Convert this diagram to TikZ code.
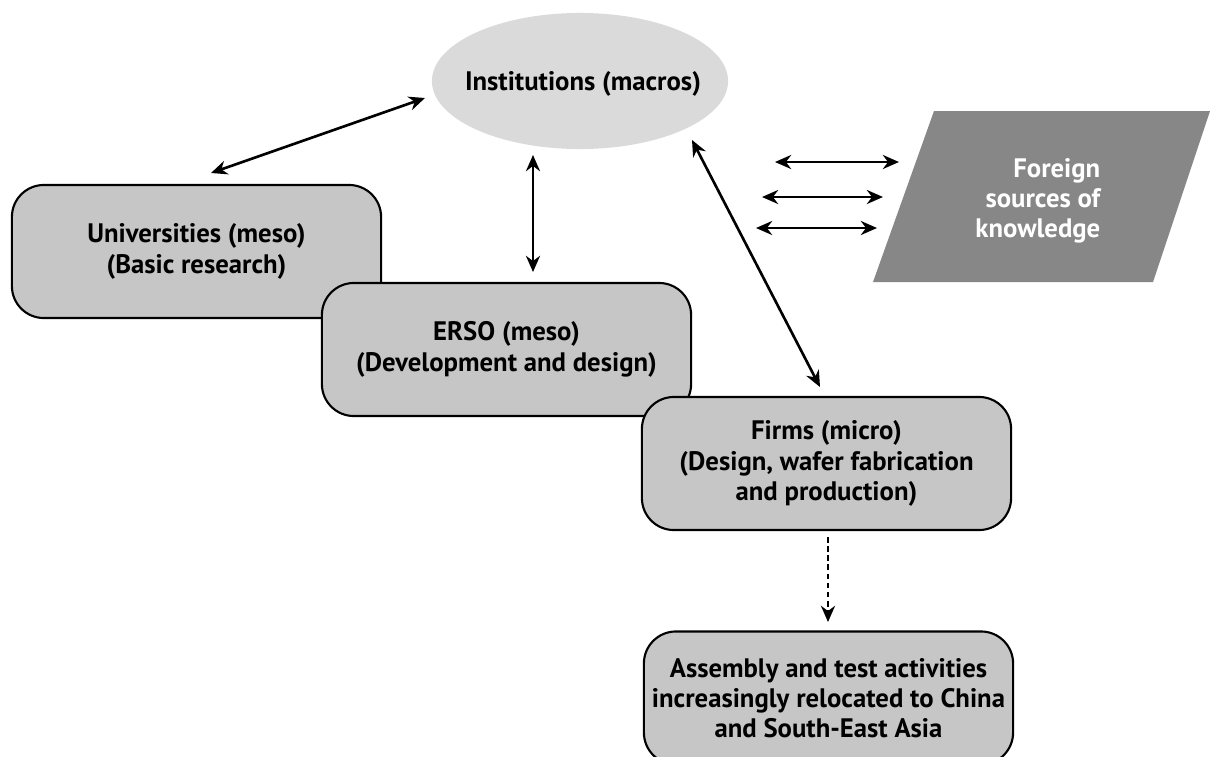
\documentclass[tikz,border=0pt]{standalone}
\usepackage{fontspec}
\setmainfont{PT Sans}
\usetikzlibrary{shapes.geometric,arrows.meta}
\definecolor{instgray}{HTML}{DADADA}
\definecolor{boxgray}{HTML}{C6C6C6}
\definecolor{foreigngray}{HTML}{878787}
\tikzset{
  level/.style={draw=black, line width=0.6pt, fill=boxgray, rounded corners=0.32cm,
    minimum width=3.69cm, minimum height=1.33cm, align=center, inner sep=0pt},
  link/.style={{Stealth[length=4.6pt,width=4pt]}-{Stealth[length=4.6pt,width=4pt]}, line width=0.75pt},
  oneway/.style={-{Stealth[length=4.6pt,width=4pt]}, line width=0.75pt, dash pattern=on 1.6pt off 1pt},
}
\begin{document}
\begin{tikzpicture}[x=0.01cm, y=-0.01cm, font=\fontsize{7.6}{8.6}\selectfont\bfseries]
    \clip (0,0) rectangle (1211,757);

    % macro level
    \node[ellipse, fill=instgray, minimum width=2.96cm, minimum height=1.36cm] (inst) at (580,81) {};
    \node (insttext) at (583,84) {Institutions (macros)};

    % meso and micro levels
    \node[level] (uni) at (196.5,251.5) {Universities (meso)\\(Basic research)};
    \node[level] (erso) at (506.5,349.5) {ERSO (meso)\\(Development and design)};
    \node[level] (firms) at (826.5,463.5) {Firms (micro)\\(Design, wafer fabrication\\and production)};
    \node[level] (asia) at (828.5,698) {Assembly and test activities\\increasingly relocated to China\\and South-East Asia};

    % foreign knowledge
    \fill[foreigngray] (934,111) -- (1210,111) -- (1153,282) -- (873,282) -- cycle;
    \node[anchor=east, align=right, text=white, inner sep=0pt] (foreign) at (1101,201) {Foreign\\sources of\\knowledge};

    % arrow ends
    \coordinate (u1) at (211,173);
    \coordinate (i1) at (425,98);
    \coordinate (i2) at (533,155);
    \coordinate (e2) at (533,272);
    \coordinate (i3) at (692,140);
    \coordinate (f3) at (820,387);
    \coordinate (k1a) at (775,162);
    \coordinate (k1b) at (899,162);
    \coordinate (k2a) at (762,197);
    \coordinate (k2b) at (883,197);
    \coordinate (k3a) at (756,228);
    \coordinate (k3b) at (877,228);
    \coordinate (f4) at (828,537);
    \coordinate (a4) at (828,622);

    \draw[link] (u1) -- (i1);
    \draw[link] (i2) -- (e2);
    \draw[link] (i3) -- (f3);
    \draw[link] (k1a) -- (k1b);
    \draw[link] (k2a) -- (k2b);
    \draw[link] (k3a) -- (k3b);
    \draw[oneway] (f4) -- (a4);
\end{tikzpicture}
\end{document}
